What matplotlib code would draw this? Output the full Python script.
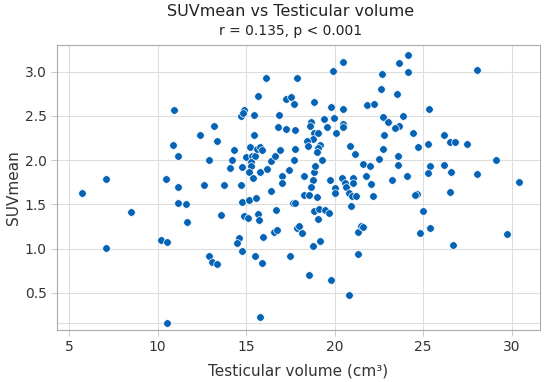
import matplotlib
matplotlib.use('Agg')
import matplotlib.pyplot as plt

# testicular volume (cm3) and SUVmean
volume = [10.95, 13.18, 12.42, 13.38, 10.86, 11.16, 12.91, 7.09, 10.50, 5.72,
          11.14, 12.64, 11.14, 11.59, 8.52, 11.68, 13.59, 10.18, 10.55, 7.09,
          12.91, 13.06, 13.36, 10.54,
          20.46, 19.93, 16.11, 17.88, 15.66, 17.26, 17.56, 17.73, 18.84, 14.88,
          14.72, 14.80, 15.43, 16.86, 19.82, 20.46, 19.39, 19.99, 18.65, 18.63,
          19.56, 20.48, 20.48, 16.79, 17.28, 17.75, 20.08, 18.86, 19.07, 18.78,
          18.43, 18.50, 19.20, 19.05, 19.03, 20.88, 21.16, 19.28, 14.34, 14.21,
          14.11, 14.77, 14.98, 15.23, 15.32, 15.51, 15.28, 15.27, 15.19, 15.41,
          15.77, 15.62, 15.79, 15.92, 15.43, 16.20, 16.43, 16.64, 16.90, 17.02,
          17.02, 17.45, 17.73, 17.78, 18.29, 18.86, 18.90, 18.80, 18.67, 18.29,
          18.58, 19.03, 19.73, 20.03, 20.03, 20.42, 21.04, 21.03, 20.61, 20.65,
          20.84, 20.97, 21.21, 20.92, 13.74, 14.70, 16.41, 14.79, 15.15, 15.55,
          17.64, 17.78, 16.71, 15.68, 15.73, 14.87, 15.10, 18.84, 19.14, 19.46,
          19.67, 19.05, 17.86, 18.01, 18.15, 16.58, 16.75, 15.94, 14.59, 14.47,
          14.77, 15.51, 15.90, 17.50, 18.78, 19.18, 21.31, 21.33, 18.56, 19.80,
          20.84, 15.79,
          24.14, 23.64, 24.14, 28.07, 22.68, 22.61, 23.53, 21.85, 22.23, 25.34,
          22.72, 23.02, 23.89, 23.64, 23.42, 22.78, 24.44, 26.17, 26.51, 26.81,
          27.47, 25.27, 24.74, 22.72, 22.51, 23.57, 23.57, 21.59, 22.00, 21.78,
          23.23, 24.10, 25.38, 25.28, 26.17, 26.56, 28.05, 29.14, 30.44, 26.52,
          22.08, 22.18, 24.64, 24.56, 24.99, 21.51, 21.63, 24.81, 25.41, 26.68,
          29.73]
suv = [2.57, 2.38, 2.28, 2.22, 2.17, 2.05, 2.00, 1.79, 1.79, 1.63,
       1.70, 1.72, 1.52, 1.50, 1.41, 1.30, 1.38, 1.10, 1.07, 1.01,
       0.92, 0.85, 0.83, 0.16,
       3.11, 3.01, 2.93, 2.93, 2.72, 2.69, 2.71, 2.63, 2.66, 2.57,
       2.50, 2.53, 2.51, 2.51, 2.60, 2.58, 2.46, 2.47, 2.43, 2.39,
       2.37, 2.41, 2.37, 2.37, 2.35, 2.34, 2.31, 2.31, 2.30, 2.24,
       2.22, 2.16, 2.17, 2.14, 2.09, 2.16, 2.07, 2.00, 2.11, 2.00,
       1.91, 1.92, 2.03, 2.15, 2.05, 2.05, 1.98, 1.93, 1.87, 1.80,
       1.87, 2.12, 2.15, 2.11, 2.28, 1.90, 1.99, 2.04, 2.11, 1.82,
       1.74, 1.89, 2.00, 2.13, 1.82, 1.86, 1.93, 1.77, 1.70, 1.61,
       1.61, 1.58, 1.78, 1.68, 1.63, 1.80, 1.80, 1.74, 1.74, 1.69,
       1.63, 1.59, 1.59, 1.48, 1.72, 1.72, 1.65, 1.53, 1.55, 1.57,
       1.51, 1.51, 1.43, 1.39, 1.32, 1.37, 1.35, 1.42, 1.45, 1.43,
       1.40, 1.33, 1.23, 1.25, 1.18, 1.19, 1.21, 1.13, 1.12, 1.06,
       0.97, 0.91, 0.84, 0.91, 1.03, 1.09, 1.19, 0.94, 0.70, 0.64,
       0.48, 0.23,
       3.19, 3.10, 2.99, 3.02, 2.97, 2.80, 2.75, 2.62, 2.63, 2.58,
       2.49, 2.43, 2.50, 2.39, 2.36, 2.28, 2.30, 2.28, 2.20, 2.20,
       2.18, 2.18, 2.15, 2.13, 2.01, 2.04, 1.94, 1.96, 1.93, 1.82,
       1.77, 1.82, 1.93, 1.85, 1.94, 1.86, 1.84, 2.00, 1.75, 1.64,
       1.73, 1.59, 1.62, 1.61, 1.42, 1.26, 1.24, 1.17, 1.23, 1.04,
       1.16]

x_ticks = [5, 10, 15, 20, 25, 30]
y_ticks = [0.5, 1.0, 1.5, 2.0, 2.5, 3.0]

plt.rcParams['font.family'] = 'DejaVu Sans'

fig = plt.figure(figsize=(5.5, 3.82), dpi=100)
ax = fig.add_axes([57.2 / 550, 1 - 329.5 / 382, (539.5 - 57.2) / 550, (329.5 - 45) / 382])

ax.scatter(volume, suv, s=30, c='#0563b6', edgecolors='white', linewidths=0.5, zorder=3)
ax.axhline(min(suv), color='#dddddd', linewidth=0.8, zorder=1)

ax.set_xlim(4.33, 31.58)
ax.set_ylim(0.085, 3.30)
ax.set_xticks(x_ticks)
ax.set_yticks(y_ticks)
ax.grid(color='#dddddd', linewidth=0.8, zorder=0)
ax.set_axisbelow(True)
for s in ax.spines.values():
    s.set_color('#aaaaaa')
ax.tick_params(color='#cccccc', length=4, labelcolor='#333333', labelsize=10)

ax.set_xlabel('Testicular volume (cm³)', fontsize=11, color='#333333', labelpad=7)
ax.set_ylabel('SUVmean', fontsize=11, color='#333333', labelpad=3)

fig.text(0.529, 1 - 12 / 382, 'SUVmean vs Testicular volume', ha='center', va='center',
         fontsize=11.5, color='#222222')
fig.text(0.529, 1 - 31 / 382, 'r = 0.135, p < 0.001', ha='center', va='center',
         fontsize=10, color='#222222')

fig.savefig('out.png', dpi=100)
